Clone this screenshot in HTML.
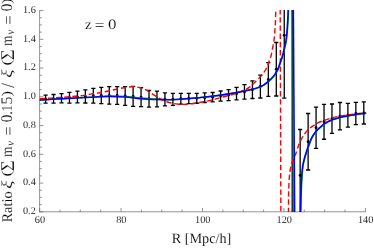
<!DOCTYPE html>
<html><head><meta charset="utf-8"><title>plot</title>
<style>
html,body{margin:0;padding:0;background:#fff;}
body{width:374px;height:249px;overflow:hidden;font-family:"Liberation Serif",serif;}
text{stroke:#fff;stroke-width:0.1px;vector-effect:non-scaling-stroke;}
svg{display:block;font-family:"Liberation Serif",serif;text-rendering:geometricPrecision;will-change:transform;-webkit-font-smoothing:antialiased;}
</style></head><body>
<svg width="374" height="249" viewBox="0 0 374 249">
<rect width="374" height="249" fill="#fff"/>
<defs><clipPath id="c"><rect x="38" y="10.0" width="330" height="202.0"/></clipPath></defs>
<g fill="none" stroke="#666" stroke-width="0.7"><path d="M39.6 10.20V212.15 M39.25 211.80H365.75" /><path d="M39.6 211.80h3.80M39.6 204.61h2.20M39.6 197.43h2.20M39.6 190.24h2.20M39.6 183.05h3.80M39.6 175.86h2.20M39.6 168.68h2.20M39.6 161.49h2.20M39.6 154.30h3.80M39.6 147.11h2.20M39.6 139.93h2.20M39.6 132.74h2.20M39.6 125.55h3.80M39.6 118.36h2.20M39.6 111.17h2.20M39.6 103.99h2.20M39.6 96.80h3.80M39.6 89.61h2.20M39.6 82.42h2.20M39.6 75.24h2.20M39.6 68.05h3.80M39.6 60.86h2.20M39.6 53.68h2.20M39.6 46.49h2.20M39.6 39.30h3.80M39.6 32.11h2.20M39.6 24.93h2.20M39.6 17.74h2.20M39.6 10.55h3.80M39.60 211.80v-3.80M59.96 211.80v-2.20M80.32 211.80v-2.20M100.69 211.80v-2.20M121.05 211.80v-3.80M141.41 211.80v-2.20M161.78 211.80v-2.20M182.14 211.80v-2.20M202.50 211.80v-3.80M222.86 211.80v-2.20M243.22 211.80v-2.20M263.59 211.80v-2.20M283.95 211.80v-3.80M304.31 211.80v-2.20M324.68 211.80v-2.20M345.04 211.80v-2.20M365.40 211.80v-3.80"/></g>
<g clip-path="url(#c)">
<g fill="none" stroke="#000" stroke-width="1.3"><path d="M45.60 95.20V103.20M43.50 95.20H47.70M43.50 103.20H47.70"/><circle cx="45.60" cy="99.20" r="1.45" fill="#000" stroke="none"/><path d="M53.55 94.50V103.20M51.45 94.50H55.66M51.45 103.20H55.66"/><circle cx="53.55" cy="98.85" r="1.45" fill="#000" stroke="none"/><path d="M61.51 93.60V102.90M59.41 93.60H63.61M59.41 102.90H63.61"/><circle cx="61.51" cy="98.25" r="1.45" fill="#000" stroke="none"/><path d="M69.47 92.30V103.20M67.37 92.30H71.56M67.37 103.20H71.56"/><circle cx="69.47" cy="97.75" r="1.45" fill="#000" stroke="none"/><path d="M77.42 91.20V102.80M75.32 91.20H79.52M75.32 102.80H79.52"/><circle cx="77.42" cy="97.00" r="1.45" fill="#000" stroke="none"/><path d="M85.38 89.80V103.00M83.28 89.80H87.47M83.28 103.00H87.47"/><circle cx="85.38" cy="96.40" r="1.45" fill="#000" stroke="none"/><path d="M93.33 88.30V103.10M91.23 88.30H95.43M91.23 103.10H95.43"/><circle cx="93.33" cy="95.70" r="1.45" fill="#000" stroke="none"/><path d="M101.28 87.40V103.70M99.19 87.40H103.38M99.19 103.70H103.38"/><circle cx="101.28" cy="95.55" r="1.45" fill="#000" stroke="none"/><path d="M109.24 86.70V104.20M107.14 86.70H111.34M107.14 104.20H111.34"/><circle cx="109.24" cy="95.45" r="1.45" fill="#000" stroke="none"/><path d="M117.19 86.70V104.40M115.09 86.70H119.29M115.09 104.40H119.29"/><circle cx="117.19" cy="95.55" r="1.45" fill="#000" stroke="none"/><path d="M125.15 86.70V105.40M123.05 86.70H127.25M123.05 105.40H127.25"/><circle cx="125.15" cy="96.05" r="1.45" fill="#000" stroke="none"/><path d="M133.10 86.40V106.30M131.00 86.40H135.20M131.00 106.30H135.20"/><circle cx="133.10" cy="96.35" r="1.45" fill="#000" stroke="none"/><path d="M141.06 87.70V106.60M138.96 87.70H143.16M138.96 106.60H143.16"/><circle cx="141.06" cy="97.15" r="1.45" fill="#000" stroke="none"/><path d="M149.02 90.50V107.10M146.92 90.50H151.12M146.92 107.10H151.12"/><circle cx="149.02" cy="98.80" r="1.45" fill="#000" stroke="none"/><path d="M156.97 91.20V106.90M154.87 91.20H159.07M154.87 106.90H159.07"/><circle cx="156.97" cy="99.05" r="1.45" fill="#000" stroke="none"/><path d="M164.93 92.90V105.90M162.83 92.90H167.03M162.83 105.90H167.03"/><circle cx="164.93" cy="99.40" r="1.45" fill="#000" stroke="none"/><path d="M172.88 93.40V105.40M170.78 93.40H174.98M170.78 105.40H174.98"/><circle cx="172.88" cy="99.40" r="1.45" fill="#000" stroke="none"/><path d="M180.84 93.40V104.20M178.74 93.40H182.94M178.74 104.20H182.94"/><circle cx="180.84" cy="98.80" r="1.45" fill="#000" stroke="none"/><path d="M188.79 93.40V103.70M186.69 93.40H190.89M186.69 103.70H190.89"/><circle cx="188.79" cy="98.55" r="1.45" fill="#000" stroke="none"/><path d="M196.75 93.40V103.25M194.65 93.40H198.84M194.65 103.25H198.84"/><circle cx="196.75" cy="98.33" r="1.45" fill="#000" stroke="none"/><path d="M204.70 92.85V102.50M202.60 92.85H206.80M202.60 102.50H206.80"/><circle cx="204.70" cy="97.67" r="1.45" fill="#000" stroke="none"/><path d="M212.66 92.50V101.80M210.56 92.50H214.75M210.56 101.80H214.75"/><circle cx="212.66" cy="97.15" r="1.45" fill="#000" stroke="none"/><path d="M220.61 91.00V101.10M218.51 91.00H222.71M218.51 101.10H222.71"/><circle cx="220.61" cy="96.05" r="1.45" fill="#000" stroke="none"/><path d="M228.56 89.55V100.60M226.47 89.55H230.66M226.47 100.60H230.66"/><circle cx="228.56" cy="95.07" r="1.45" fill="#000" stroke="none"/><path d="M236.52 87.40V99.90M234.42 87.40H238.62M234.42 99.90H238.62"/><circle cx="236.52" cy="93.65" r="1.45" fill="#000" stroke="none"/><path d="M244.47 84.70V99.20M242.38 84.70H246.57M242.38 99.20H246.57"/><circle cx="244.47" cy="91.95" r="1.45" fill="#000" stroke="none"/><path d="M252.43 80.80V98.50M250.33 80.80H254.53M250.33 98.50H254.53"/><circle cx="252.43" cy="89.65" r="1.45" fill="#000" stroke="none"/><path d="M260.38 75.10V98.00M258.28 75.10H262.49M258.28 98.00H262.49"/><circle cx="260.38" cy="86.55" r="1.45" fill="#000" stroke="none"/><path d="M268.34 62.70V96.30M266.24 62.70H270.44M266.24 96.30H270.44"/><circle cx="268.34" cy="79.50" r="1.45" fill="#000" stroke="none"/><path d="M276.30 42.50V96.00M274.19 42.50H278.40M274.19 96.00H278.40"/><circle cx="276.30" cy="69.25" r="1.45" fill="#000" stroke="none"/><path d="M284.25 -27.80V98.20M282.15 -27.80H286.35M282.15 98.20H286.35"/><circle cx="284.25" cy="35.20" r="1.45" fill="#000" stroke="none"/><path d="M292.20 -300.00V500.00M290.10 -300.00H294.31M290.10 500.00H294.31"/><path d="M300.16 129.50V221.30M298.06 129.50H302.26M298.06 221.30H302.26"/><circle cx="300.16" cy="175.40" r="1.45" fill="#000" stroke="none"/><path d="M308.12 113.50V170.00M306.01 113.50H310.22M306.01 170.00H310.22"/><circle cx="308.12" cy="141.75" r="1.45" fill="#000" stroke="none"/><path d="M316.07 107.20V148.30M313.97 107.20H318.17M313.97 148.30H318.17"/><circle cx="316.07" cy="127.75" r="1.45" fill="#000" stroke="none"/><path d="M324.03 104.30V139.25M321.93 104.30H326.13M321.93 139.25H326.13"/><circle cx="324.03" cy="121.78" r="1.45" fill="#000" stroke="none"/><path d="M331.98 104.00V133.30M329.88 104.00H334.08M329.88 133.30H334.08"/><circle cx="331.98" cy="118.65" r="1.45" fill="#000" stroke="none"/><path d="M339.94 102.50V129.80M337.83 102.50H342.04M337.83 129.80H342.04"/><circle cx="339.94" cy="116.15" r="1.45" fill="#000" stroke="none"/><path d="M347.89 103.40V127.20M345.79 103.40H349.99M345.79 127.20H349.99"/><circle cx="347.89" cy="115.30" r="1.45" fill="#000" stroke="none"/><path d="M355.85 102.40V124.70M353.75 102.40H357.95M353.75 124.70H357.95"/><circle cx="355.85" cy="113.55" r="1.45" fill="#000" stroke="none"/><path d="M363.80 101.90V124.00M361.70 101.90H365.90M361.70 124.00H365.90"/><circle cx="363.80" cy="112.95" r="1.45" fill="#000" stroke="none"/></g>
<g fill="none" stroke="#00a000" stroke-width="1.35"><path d="M39.65 100.00 C42.38 99.85 50.61 99.41 56.00 99.10 C61.39 98.79 66.33 98.45 72.00 98.15 C77.67 97.85 84.00 97.68 90.00 97.30 C96.00 96.92 102.17 96.01 108.00 95.85 C113.83 95.69 119.00 95.95 125.00 96.35 C131.00 96.75 137.50 97.71 144.00 98.25 C150.50 98.79 158.00 99.42 164.00 99.60 C170.00 99.78 174.33 99.67 180.00 99.35 C185.67 99.03 192.00 98.30 198.00 97.70 C204.00 97.10 210.00 96.55 216.00 95.75 C222.00 94.95 228.12 93.94 234.00 92.90 C239.88 91.86 246.83 90.53 251.30 89.50 C255.78 88.47 258.57 87.59 260.85 86.75 C263.12 85.91 263.63 85.32 264.95 84.45 C266.27 83.58 267.18 83.00 268.75 81.55 C270.32 80.10 272.78 77.75 274.35 75.75 C275.92 73.75 277.06 71.87 278.15 69.55 C279.24 67.23 280.07 64.25 280.90 61.85 C281.73 59.45 282.49 57.48 283.15 55.15 C283.81 52.82 284.32 50.18 284.85 47.85 C285.38 45.52 285.95 43.60 286.35 41.15 C286.75 38.70 287.00 35.82 287.25 33.15 C287.50 30.48 287.67 27.82 287.85 25.15 C288.02 22.48 288.18 19.82 288.30 17.15 C288.43 14.48 288.55 10.48 288.60 9.15"/><path d="M300.85 213.15 C300.90 210.98 301.04 204.13 301.15 200.15 C301.26 196.17 301.33 193.32 301.50 189.25 C301.67 185.18 301.88 179.67 302.15 175.75 C302.42 171.83 302.67 168.77 303.15 165.75 C303.63 162.73 304.33 160.28 305.05 157.65 C305.77 155.02 306.73 152.12 307.45 149.95 C308.17 147.78 308.55 146.72 309.35 144.65 C310.15 142.58 311.12 139.70 312.25 137.55 C313.38 135.40 315.12 133.12 316.15 131.75 C317.18 130.38 316.97 130.68 318.45 129.35 C319.93 128.02 322.70 125.33 325.05 123.75 C327.40 122.17 329.98 120.88 332.55 119.85 C335.12 118.82 337.82 118.18 340.45 117.55 C343.08 116.92 345.72 116.55 348.35 116.05 C350.98 115.55 353.25 114.98 356.25 114.55 C359.25 114.12 364.67 113.63 366.35 113.45"/></g><path d="M292.4 9L293.1 213" fill="none" stroke="#0b5038" stroke-width="1.4"/>
<g fill="none" stroke="#ff0000" stroke-width="1.4" stroke-dasharray="5.4 2.8"><path d="M39.65 98.60 C41.38 98.52 46.61 98.28 50.00 98.10 C53.39 97.92 56.75 97.72 60.00 97.50 C63.25 97.28 67.02 97.00 69.50 96.80 C71.98 96.60 72.57 96.53 74.90 96.30 C77.23 96.07 80.70 95.80 83.50 95.40 C86.30 95.00 88.97 94.35 91.70 93.90 C94.43 93.45 97.33 93.15 99.90 92.70 C102.47 92.25 104.38 91.77 107.10 91.20 C109.82 90.63 113.40 89.88 116.20 89.30 C119.00 88.72 121.18 88.13 123.90 87.70 C126.62 87.27 129.70 86.68 132.50 86.70 C135.30 86.72 138.22 87.18 140.70 87.85 C143.18 88.52 145.08 89.44 147.40 90.70 C149.72 91.96 151.96 93.76 154.60 95.40 C157.24 97.04 160.60 99.32 163.25 100.55 C165.90 101.78 168.01 102.19 170.50 102.80 C172.99 103.41 175.42 103.97 178.20 104.20 C180.98 104.43 184.33 104.36 187.20 104.20 C190.07 104.04 192.67 103.65 195.40 103.25 C198.13 102.85 200.95 102.31 203.60 101.80 C206.25 101.29 208.92 100.77 211.30 100.20 C213.68 99.63 215.20 99.13 217.90 98.40 C220.60 97.67 224.61 96.60 227.50 95.80 C230.39 95.00 232.60 94.48 235.25 93.60 C237.90 92.72 241.03 91.58 243.40 90.50 C245.78 89.42 247.47 88.67 249.50 87.15 C251.53 85.63 253.62 83.33 255.60 81.40 C257.58 79.48 259.79 77.45 261.40 75.60 C263.01 73.75 264.21 71.90 265.25 70.30 C266.29 68.70 267.01 67.51 267.65 66.00 C268.29 64.49 268.54 62.92 269.10 61.25 C269.66 59.58 270.43 58.12 271.00 56.00 C271.57 53.88 272.02 51.00 272.50 48.50 C272.98 46.00 273.53 43.58 273.90 41.00 C274.27 38.42 274.47 35.67 274.70 33.00 C274.93 30.33 275.15 27.67 275.30 25.00 C275.45 22.33 275.52 19.67 275.60 17.00 C275.68 14.33 275.77 10.33 275.80 9.00"/><path d="M280.20 9.00L280.85 213.00"/><path d="M288.50 213.00 C288.51 210.83 288.52 203.98 288.55 200.00 C288.58 196.02 288.54 193.17 288.70 189.10 C288.86 185.03 289.20 179.03 289.50 175.60 C289.80 172.17 290.08 170.68 290.50 168.50 C290.92 166.32 291.45 164.25 292.00 162.50 C292.55 160.75 293.22 159.35 293.80 158.00 C294.38 156.65 294.82 156.18 295.50 154.40 C296.18 152.62 297.27 149.15 297.90 147.30 C298.53 145.45 298.27 145.43 299.30 143.30 C300.33 141.17 302.33 137.01 304.10 134.50 C305.87 131.99 307.97 129.98 309.90 128.25 C311.83 126.52 314.38 124.99 315.70 124.10 C317.02 123.21 316.45 123.52 317.85 122.90 C319.25 122.28 321.73 121.25 324.10 120.40 C326.48 119.55 329.45 118.52 332.10 117.80 C334.75 117.08 337.38 116.58 340.00 116.10 C342.62 115.62 345.17 115.28 347.80 114.90 C350.43 114.52 353.13 114.13 355.80 113.80 C358.47 113.47 362.12 113.08 363.80 112.90 C365.48 112.72 365.55 112.73 365.90 112.70"/></g>
<g fill="none" stroke="#0000ff" stroke-width="1.5"><path d="M39.65 100.00 C42.38 99.85 50.61 99.41 56.00 99.10 C61.39 98.79 66.33 98.45 72.00 98.15 C77.67 97.85 84.00 97.58 90.00 97.30 C96.00 97.02 102.17 96.55 108.00 96.50 C113.83 96.45 119.00 96.60 125.00 97.00 C131.00 97.40 137.50 98.47 144.00 98.90 C150.50 99.33 158.00 99.52 164.00 99.60 C170.00 99.67 174.33 99.67 180.00 99.35 C185.67 99.03 192.00 98.30 198.00 97.70 C204.00 97.10 210.00 96.55 216.00 95.75 C222.00 94.95 228.12 93.94 234.00 92.90 C239.88 91.86 246.90 90.55 251.30 89.50 C255.70 88.45 258.20 87.47 260.40 86.60 C262.60 85.73 263.18 85.17 264.50 84.30 C265.82 83.43 266.73 82.85 268.30 81.40 C269.87 79.95 272.33 77.60 273.90 75.60 C275.47 73.60 276.61 71.72 277.70 69.40 C278.79 67.08 279.62 64.10 280.45 61.70 C281.28 59.30 282.04 57.33 282.70 55.00 C283.36 52.67 283.87 50.03 284.40 47.70 C284.93 45.37 285.50 43.45 285.90 41.00 C286.30 38.55 286.55 35.67 286.80 33.00 C287.05 30.33 287.22 27.67 287.40 25.00 C287.57 22.33 287.73 19.67 287.85 17.00 C287.98 14.33 288.10 10.33 288.15 9.00"/><path d="M293.35 9.00L294.65 213.00"/><path d="M300.40 213.00 C300.45 210.83 300.59 203.98 300.70 200.00 C300.81 196.02 300.88 193.17 301.05 189.10 C301.22 185.03 301.43 179.52 301.70 175.60 C301.97 171.68 302.22 168.62 302.70 165.60 C303.18 162.58 303.88 160.13 304.60 157.50 C305.32 154.87 306.28 151.97 307.00 149.80 C307.72 147.63 308.10 146.57 308.90 144.50 C309.70 142.43 310.67 139.55 311.80 137.40 C312.93 135.25 314.67 132.97 315.70 131.60 C316.73 130.23 316.52 130.53 318.00 129.20 C319.48 127.87 322.25 125.18 324.60 123.60 C326.95 122.02 329.53 120.73 332.10 119.70 C334.67 118.67 337.37 118.03 340.00 117.40 C342.63 116.77 345.27 116.40 347.90 115.90 C350.53 115.40 352.80 114.83 355.80 114.40 C358.80 113.97 364.22 113.48 365.90 113.30"/></g>
</g>
<g font-size="10.3" fill="#000"><text x="35.8" y="214.20" text-anchor="end">0.2</text><text x="35.8" y="185.45" text-anchor="end">0.4</text><text x="35.8" y="156.70" text-anchor="end">0.6</text><text x="35.8" y="127.95" text-anchor="end">0.8</text><text x="35.8" y="99.20" text-anchor="end">1.0</text><text x="35.8" y="70.45" text-anchor="end">1.2</text><text x="35.8" y="41.70" text-anchor="end">1.4</text><text x="35.8" y="12.95" text-anchor="end">1.6</text><text x="39.90" y="222.6" text-anchor="middle">60</text><text x="121.35" y="222.6" text-anchor="middle">80</text><text x="202.80" y="222.6" text-anchor="middle">100</text><text x="284.25" y="222.6" text-anchor="middle">120</text><text x="365.70" y="222.6" text-anchor="middle">140</text></g>
<g font-size="14" fill="#000">
<text transform="translate(84.92,28.50) scale(1.513,1.435)" font-size="10" font-style="normal">z</text><text transform="translate(94.74,29.76) scale(1.720,1.551)" font-size="10" font-style="normal">=</text><text transform="translate(108.12,28.76) scale(1.690,1.437)" font-size="10" font-style="normal">0</text>
<text x="171.7" y="242.8" font-size="14.2" textLength="59.6" lengthAdjust="spacingAndGlyphs">R [Mpc/h]</text>
</g>
<g fill="#000"><text transform="translate(12.05,222.53) rotate(-90) scale(1.438,1.493)" font-size="10" font-style="normal">Ratio</text><text transform="translate(12.36,188.86) rotate(-90) scale(1.897,1.566)" font-size="10" font-style="italic">ξ</text><text transform="translate(10.95,176.49) rotate(-90) scale(1.765,1.356)" font-size="10" font-style="normal">(</text><text transform="translate(13.80,171.26) rotate(-90) scale(1.898,1.954)" font-size="10" font-style="normal">Σ</text><text transform="translate(12.20,157.07) rotate(-90) scale(1.338,1.574)" font-size="10" font-style="normal">m</text><text transform="translate(13.99,145.66) rotate(-90) scale(1.070,1.149)" font-size="10" font-style="italic">ν</text><text transform="translate(13.79,135.74) rotate(-90) scale(1.677,1.755)" font-size="10" font-style="normal">=</text><text transform="translate(12.04,122.53) rotate(-90) scale(1.571,1.637)" font-size="10" font-style="normal">0</text><text transform="translate(11.65,114.70) rotate(-90) scale(1.458,1.667)" font-size="10" font-style="normal">.</text><text transform="translate(11.90,111.18) rotate(-90) scale(1.200,1.530)" font-size="10" font-style="normal">1</text><text transform="translate(12.04,104.56) rotate(-90) scale(1.600,1.624)" font-size="10" font-style="normal">5</text><text transform="translate(11.15,96.37) rotate(-90) scale(1.577,1.356)" font-size="10" font-style="normal">)</text><text transform="translate(13.61,87.70) rotate(-90) scale(1.673,1.866)" font-size="10" font-style="normal">/</text><text transform="translate(12.36,77.76) rotate(-90) scale(1.897,1.566)" font-size="10" font-style="italic">ξ</text><text transform="translate(10.95,65.39) rotate(-90) scale(1.765,1.356)" font-size="10" font-style="normal">(</text><text transform="translate(13.80,60.16) rotate(-90) scale(1.898,1.954)" font-size="10" font-style="normal">Σ</text><text transform="translate(12.20,45.97) rotate(-90) scale(1.338,1.574)" font-size="10" font-style="normal">m</text><text transform="translate(13.99,34.56) rotate(-90) scale(1.070,1.149)" font-size="10" font-style="italic">ν</text><text transform="translate(13.79,24.64) rotate(-90) scale(1.677,1.755)" font-size="10" font-style="normal">=</text><text transform="translate(12.04,11.43) rotate(-90) scale(1.571,1.637)" font-size="10" font-style="normal">0</text><text transform="translate(11.15,3.67) rotate(-90) scale(1.577,1.356)" font-size="10" font-style="normal">)</text></g>
</svg>
</body></html>
